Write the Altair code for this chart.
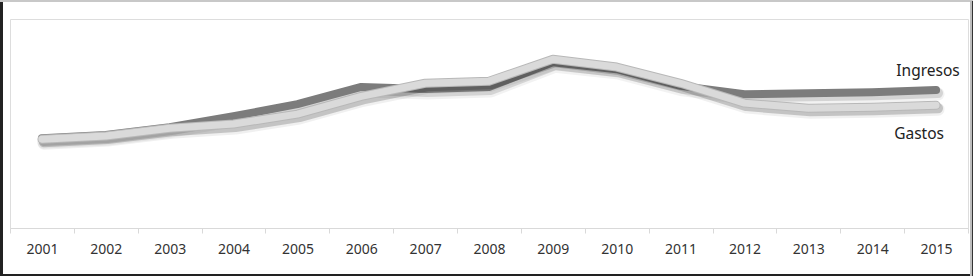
import altair as alt
import pandas as pd

years = [str(y) for y in range(2001, 2016)]
ingresos = [17.2, 17.8, 19.3, 21.4, 23.7, 27.0, 26.6, 27.0, 31.7, 30.4, 27.2, 25.6, 25.8, 26.0, 26.4]
gastos = [17.0, 17.6, 19.1, 19.9, 21.8, 25.2, 27.7, 28.1, 32.3, 30.8, 27.7, 23.9, 22.9, 23.1, 23.5]

W, H = 958, 209

df = pd.DataFrame({"year": years, "Ingresos": ingresos, "Gastos": gastos})

xenc = alt.X("year:N", scale=alt.Scale(paddingInner=0, paddingOuter=0),
             axis=alt.Axis(title=None, labelAngle=0, domainColor="#d9d9d9", tickColor="#d9d9d9",
                           tickBand="extent", tickSize=5, labelFontSize=14, labelColor="#333333",
                           labelFont="Noto Sans", labelPadding=9, domainWidth=1))
yscale = alt.Scale(domain=[0, 40])
yaxis = alt.Axis(title=None, domain=False, ticks=False, labels=False, grid=True,
                 gridColor="#d9d9d9", gridWidth=1, values=[10, 20, 30, 40])

base = alt.Chart(df)

def line(field, color, width, opacity=1.0, dx=0, dy=0, axis=None):
    return base.mark_line(color=color, strokeWidth=width, opacity=opacity, strokeCap="round",
                          strokeJoin="round", interpolate="linear", xOffset=dx, yOffset=dy).encode(
        x=xenc, y=alt.Y(f"{field}:Q", scale=yscale, axis=axis))

layers = [
    line("Ingresos", "#000000", 13, 0.05, 2, 4, yaxis),
    line("Ingresos", "#000000", 10, 0.12, 2, 3),
    line("Ingresos", "#7c7c7c", 8),
    line("Gastos", "#000000", 13, 0.06, 2, 4),
    line("Gastos", "#000000", 10, 0.18, 2, 3),
    line("Gastos", "#b8b8b8", 9),
    line("Gastos", "#dadada", 7),
]

labels_df = pd.DataFrame({"year": [years[-1], years[-1]], "val": [ingresos[-1], gastos[-1]],
                          "name": ["Ingresos", "Gastos"]})
txt_i = alt.Chart(labels_df[labels_df.name == "Ingresos"]).mark_text(
    font="Noto Sans", fontSize=15.5, color="#222222", dx=-8, dy=-19).encode(
    x=xenc, y=alt.Y("val:Q", scale=yscale), text="name:N")
txt_g = alt.Chart(labels_df[labels_df.name == "Gastos"]).mark_text(
    font="Noto Sans", fontSize=15.5, color="#222222", dx=-17, dy=29).encode(
    x=xenc, y=alt.Y("val:Q", scale=yscale), text="name:N")

# frame around the whole picture
frame_l = alt.Chart(df).mark_rule(color="#222222", strokeWidth=2).encode(
    x=alt.value(-8.5), y=alt.value(-18), y2=alt.value(H + 48))
frame_b = alt.Chart(df).mark_rule(color="#222222", strokeWidth=2).encode(
    x=alt.value(-10), x2=alt.value(W + 5), y=alt.value(H + 47))
frame_t = alt.Chart(df).mark_rule(color="#c8c8c8", strokeWidth=2).encode(
    x=alt.value(-10), x2=alt.value(W + 5), y=alt.value(-18))
frame_r = alt.Chart(df).mark_rule(color="#bdbdbd", strokeWidth=2).encode(
    x=alt.value(W + 3), y=alt.value(-18), y2=alt.value(H + 48))
frame_r2 = alt.Chart(df).mark_rule(color="#333333", strokeWidth=1).encode(
    x=alt.value(W + 4.5), y=alt.value(-18), y2=alt.value(H + 48))

chart = alt.layer(*layers, txt_i, txt_g, frame_l, frame_b, frame_t, frame_r, frame_r2).properties(
    width=W, height=H, padding={"left": 10, "top": 19, "right": 5, "bottom": 49},
    autosize=alt.AutoSizeParams(type="none"),
).configure_view(stroke=None).configure(background="white")

chart.save("out.html", embed_options={"renderer": "svg", "actions": False})
